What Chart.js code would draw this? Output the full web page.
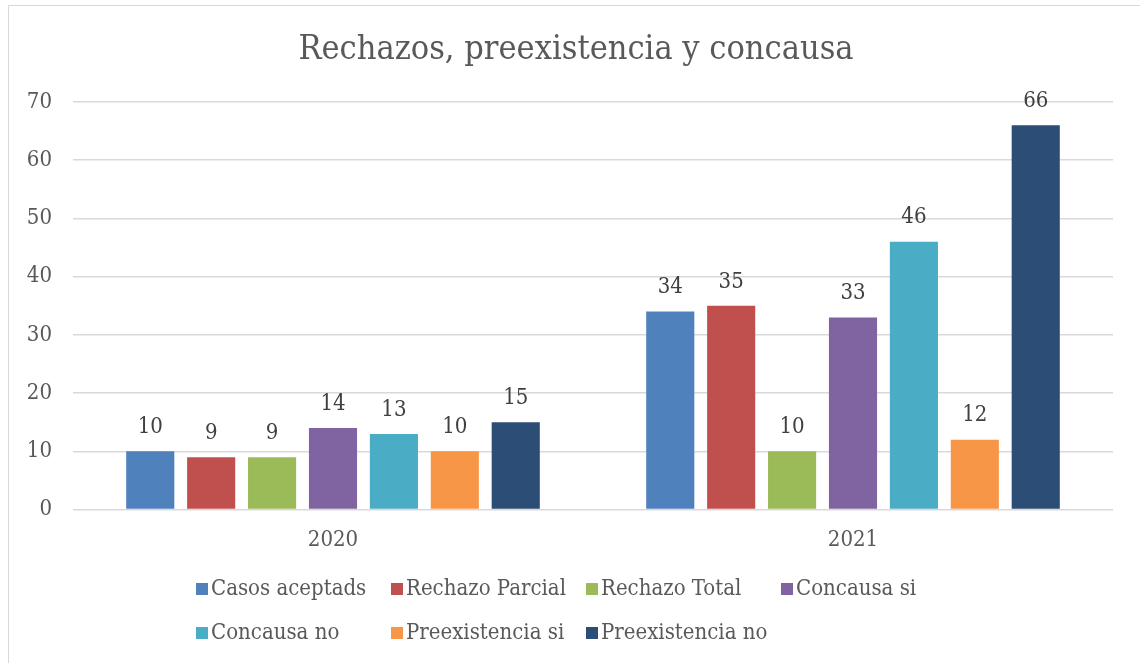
<!DOCTYPE html>
<html>
<head>
<meta charset="utf-8">
<script src="https://cdn.jsdelivr.net/npm/chart.js@4"></script>
<style>
  html, body { margin: 0; padding: 0; background: #fff; }
  #wrap { width: 1140px; height: 663px; }
</style>
</head>
<body>
<div id="wrap"><canvas id="chart"></canvas></div>
<script>
const years = ['2020', '2021'];
const seriesNames = ['Casos aceptads', 'Rechazo Parcial', 'Rechazo Total', 'Concausa si', 'Concausa no', 'Preexistencia si', 'Preexistencia no'];
const seriesColors = ['#4F81BD', '#C0504D', '#9BBB59', '#8064A2', '#4BACC6', '#F79646', '#2C4D75'];
const casosAceptados = [10, 34];
const rechazoParcial = [9, 35];
const rechazoTotal = [9, 10];
const concausaSi = [14, 33];
const concausaNo = [13, 46];
const preexistenciaSi = [10, 12];
const preexistenciaNo = [15, 66];
const yTicks = [0, 10, 20, 30, 40, 50, 60, 70];
const chartTitle = 'Rechazos, preexistencia y concausa';

const seriesValues = [casosAceptados, rechazoParcial, rechazoTotal, concausaSi, concausaNo, preexistenciaSi, preexistenciaNo];
const serif = '"DejaVu Serif Condensed", "Liberation Serif", serif';

// value labels above each bar
const barLabels = {
  id: 'barLabels',
  afterDatasetsDraw(chart) {
    const ctx = chart.ctx;
    ctx.save();
    ctx.font = '22px ' + serif;
    ctx.fillStyle = '#404040';
    ctx.textAlign = 'center';
    ctx.textBaseline = 'middle';
    chart.data.datasets.forEach((ds, i) => {
      chart.getDatasetMeta(i).data.forEach((bar, j) => {
        ctx.fillText(ds.data[j], bar.x, bar.y - 24);
      });
    });
    ctx.restore();
  }
};

// title, excel-like legend on a grid, outer border
const frame = {
  id: 'frame',
  afterDraw(chart) {
    const ctx = chart.ctx;
    ctx.save();
    ctx.strokeStyle = '#d9d9d9';
    ctx.lineWidth = 1;
    ctx.strokeRect(8.5, 5.5, 1160, 700);

    ctx.fillStyle = '#595959';
    ctx.font = '34px ' + serif;
    ctx.textAlign = 'center';
    ctx.textBaseline = 'middle';
    ctx.fillText(chartTitle, 576, 50);

    ctx.textAlign = 'left';
    ctx.font = '22px ' + serif;
    chart.data.datasets.forEach((ds, i) => {
      const col = i % 4, row = Math.floor(i / 4);
      const x = 196 + col * 195;
      const y = 589 + row * 44;
      ctx.fillStyle = ds.backgroundColor;
      ctx.fillRect(x, y - 6, 12, 12);
      ctx.fillStyle = '#595959';
      ctx.fillText(ds.label, x + 15, y);
    });
    ctx.restore();
  }
};

new Chart(document.getElementById('chart'), {
  type: 'bar',
  data: {
    labels: years,
    datasets: seriesNames.map((name, i) => ({
      label: name,
      data: seriesValues[i],
      backgroundColor: seriesColors[i],
      barPercentage: 0.79,
      categoryPercentage: 0.82
    }))
  },
  options: {
    responsive: true,
    maintainAspectRatio: false,
    animation: false,
    layout: { padding: { left: 0, right: 27, top: 102, bottom: 93 } },
    plugins: {
      legend: { display: false },
      tooltip: { enabled: false },
      title: { display: false }
    },
    scales: {
      x: {
        grid: { display: false, drawTicks: false },
        border: { display: false },
        ticks: { color: '#595959', font: { family: serif, size: 22 }, padding: 17 }
      },
      y: {
        min: 0,
        max: 70,
        afterFit(scale) { scale.width = 73; },
        afterBuildTicks(scale) { scale.ticks = yTicks.map(v => ({ value: v })); },
        grid: { color: '#d9d9d9', lineWidth: 1.5, drawTicks: false },
        border: { display: false },
        ticks: { color: '#595959', font: { family: serif, size: 22 }, padding: 21 }
      }
    }
  },
  plugins: [barLabels, frame]
});
</script>
</body>
</html>
